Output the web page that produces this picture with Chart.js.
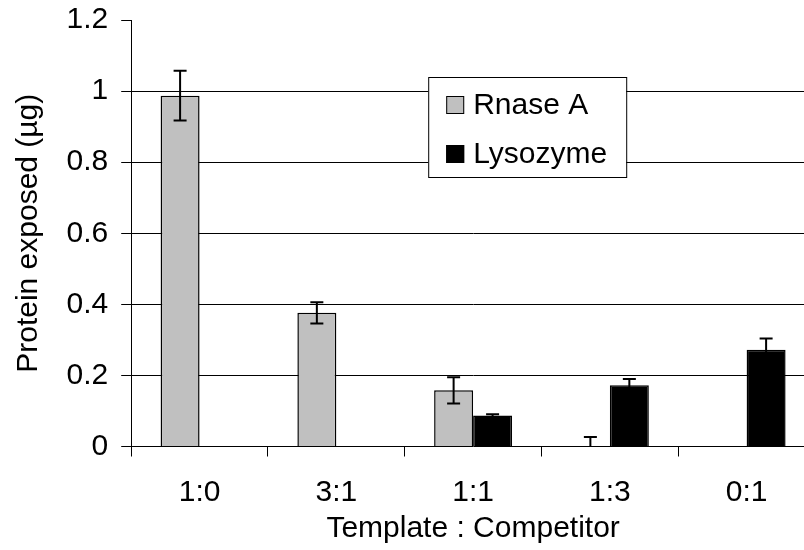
<!DOCTYPE html>
<html>
<head>
<meta charset="utf-8">
<script src="https://cdn.jsdelivr.net/npm/chart.js@4"></script>
<style>
  html, body { margin: 0; padding: 0; background: #fff; overflow: hidden; }
</style>
</head>
<body>
<canvas id="chart" width="830" height="550"></canvas>
<script>
const categories = ['1:0', '3:1', '1:1', '1:3', '0:1'];
const rnaseValues = [0.987, 0.376, 0.158, 0, 0];
const rnaseErrors = [0.07, 0.03, 0.037, 0.027, 0];
const lysozymeValues = [0, 0, 0.087, 0.172, 0.272];
const lysozymeErrors = [0, 0, 0.004, 0.018, 0.032];
const yTicks = [0, 0.2, 0.4, 0.6, 0.8, 1, 1.2];

const FONT = 'Liberation Sans, Arial, sans-serif';

// error bars drawn from the arrays above, positioned through the y scale
const errorBars = {
  id: 'errorBars',
  afterDatasetsDraw(chart) {
    const ctx = chart.ctx;
    const y = chart.scales.y;
    chart.data.datasets.forEach((ds, i) => {
      const meta = chart.getDatasetMeta(i);
      meta.data.forEach((bar, j) => {
        const err = ds.errors[j];
        if (!err) return;
        const v = ds.data[j];
        const top = y.getPixelForValue(v + err);
        const low = Math.max(v - err, 0);
        const bottom = y.getPixelForValue(low);
        ctx.save();
        ctx.strokeStyle = '#000';
        ctx.lineWidth = 2;
        ctx.beginPath();
        ctx.moveTo(bar.x, top);
        ctx.lineTo(bar.x, bottom);
        ctx.moveTo(bar.x - 6.5, top);
        ctx.lineTo(bar.x + 6.5, top);
        if (v - err > 0) {
          ctx.moveTo(bar.x - 6.5, bottom);
          ctx.lineTo(bar.x + 6.5, bottom);
        }
        ctx.stroke();
        ctx.restore();
      });
    });
  }
};

// boxed legend inside the plot area
const boxLegend = {
  id: 'boxLegend',
  afterDraw(chart) {
    const ctx = chart.ctx;
    const a = chart.chartArea;
    const x0 = a.left + 297, y0 = a.top + 57;
    ctx.save();
    ctx.fillStyle = '#fff';
    ctx.fillRect(x0, y0, 198, 100);
    ctx.strokeStyle = '#000';
    ctx.lineWidth = 1;
    ctx.strokeRect(x0 + 0.5, y0 + 0.5, 198, 100);
    ctx.font = '30px ' + FONT;
    ctx.textBaseline = 'middle';
    chart.data.datasets.forEach((ds, i) => {
      const cy = y0 + 28 + i * 49;
      ctx.fillStyle = ds.backgroundColor;
      ctx.fillRect(x0 + 18, cy - 9, 18, 18);
      ctx.strokeStyle = '#000';
      ctx.strokeRect(x0 + 18.5, cy - 8.5, 17, 17);
      ctx.fillStyle = '#000';
      ctx.fillText(ds.label, x0 + 45, cy + 1);
    });
    ctx.restore();
  }
};

new Chart(document.getElementById('chart').getContext('2d'), {
  type: 'bar',
  data: {
    labels: categories,
    datasets: [
      {
        label: 'Rnase A',
        data: rnaseValues,
        errors: rnaseErrors,
        backgroundColor: '#c0c0c0',
        borderColor: '#000',
        borderWidth: 1.5,
      },
      {
        label: 'Lysozyme',
        data: lysozymeValues,
        errors: lysozymeErrors,
        backgroundColor: '#000',
        borderColor: '#000',
        borderWidth: 1.5,
      },
    ],
  },
  options: {
    responsive: false,
    animation: false,
    devicePixelRatio: 1,
    categoryPercentage: 0.57,
    barPercentage: 1,
    layout: { padding: { left: 7, right: 15, top: 20, bottom: 3.5 } },
    plugins: {
      legend: { display: false },
      tooltip: { enabled: false },
    },
    scales: {
      x: {
        grid: { drawOnChartArea: false, color: '#000', tickLength: 10 },
        border: { color: '#000', width: 1 },
        ticks: { color: '#000', font: { family: FONT, size: 30 }, padding: 18 },
        title: {
          display: true,
          text: 'Template : Competitor',
          color: '#000',
          font: { family: FONT, size: 30 },
          padding: { top: -18, bottom: 0 },
        },
      },
      y: {
        min: 0,
        max: 1.2,
        afterBuildTicks(scale) {
          scale.ticks = yTicks.map(v => ({ value: v }));
        },
        grid: {
          color: c => (c.tick && (c.tick.value === 1.2 || c.tick.value === 0)) ? 'rgba(0,0,0,0)' : '#000',
          tickColor: '#000',
          tickLength: 10,
        },
        border: { color: '#000', width: 1 },
        ticks: {
          color: '#000',
          font: { family: FONT, size: 30, lineHeight: 0.45 },
          padding: 13,
          callback: v => String(Math.round(v * 10) / 10),
        },
        title: {
          display: true,
          text: 'Protein exposed (µg)',
          color: '#000',
          font: { family: FONT, size: 30 },
          padding: { top: 4, bottom: 6.5 },
        },
      },
    },
  },
  plugins: [errorBars, boxLegend],
});
</script>
</body>
</html>
